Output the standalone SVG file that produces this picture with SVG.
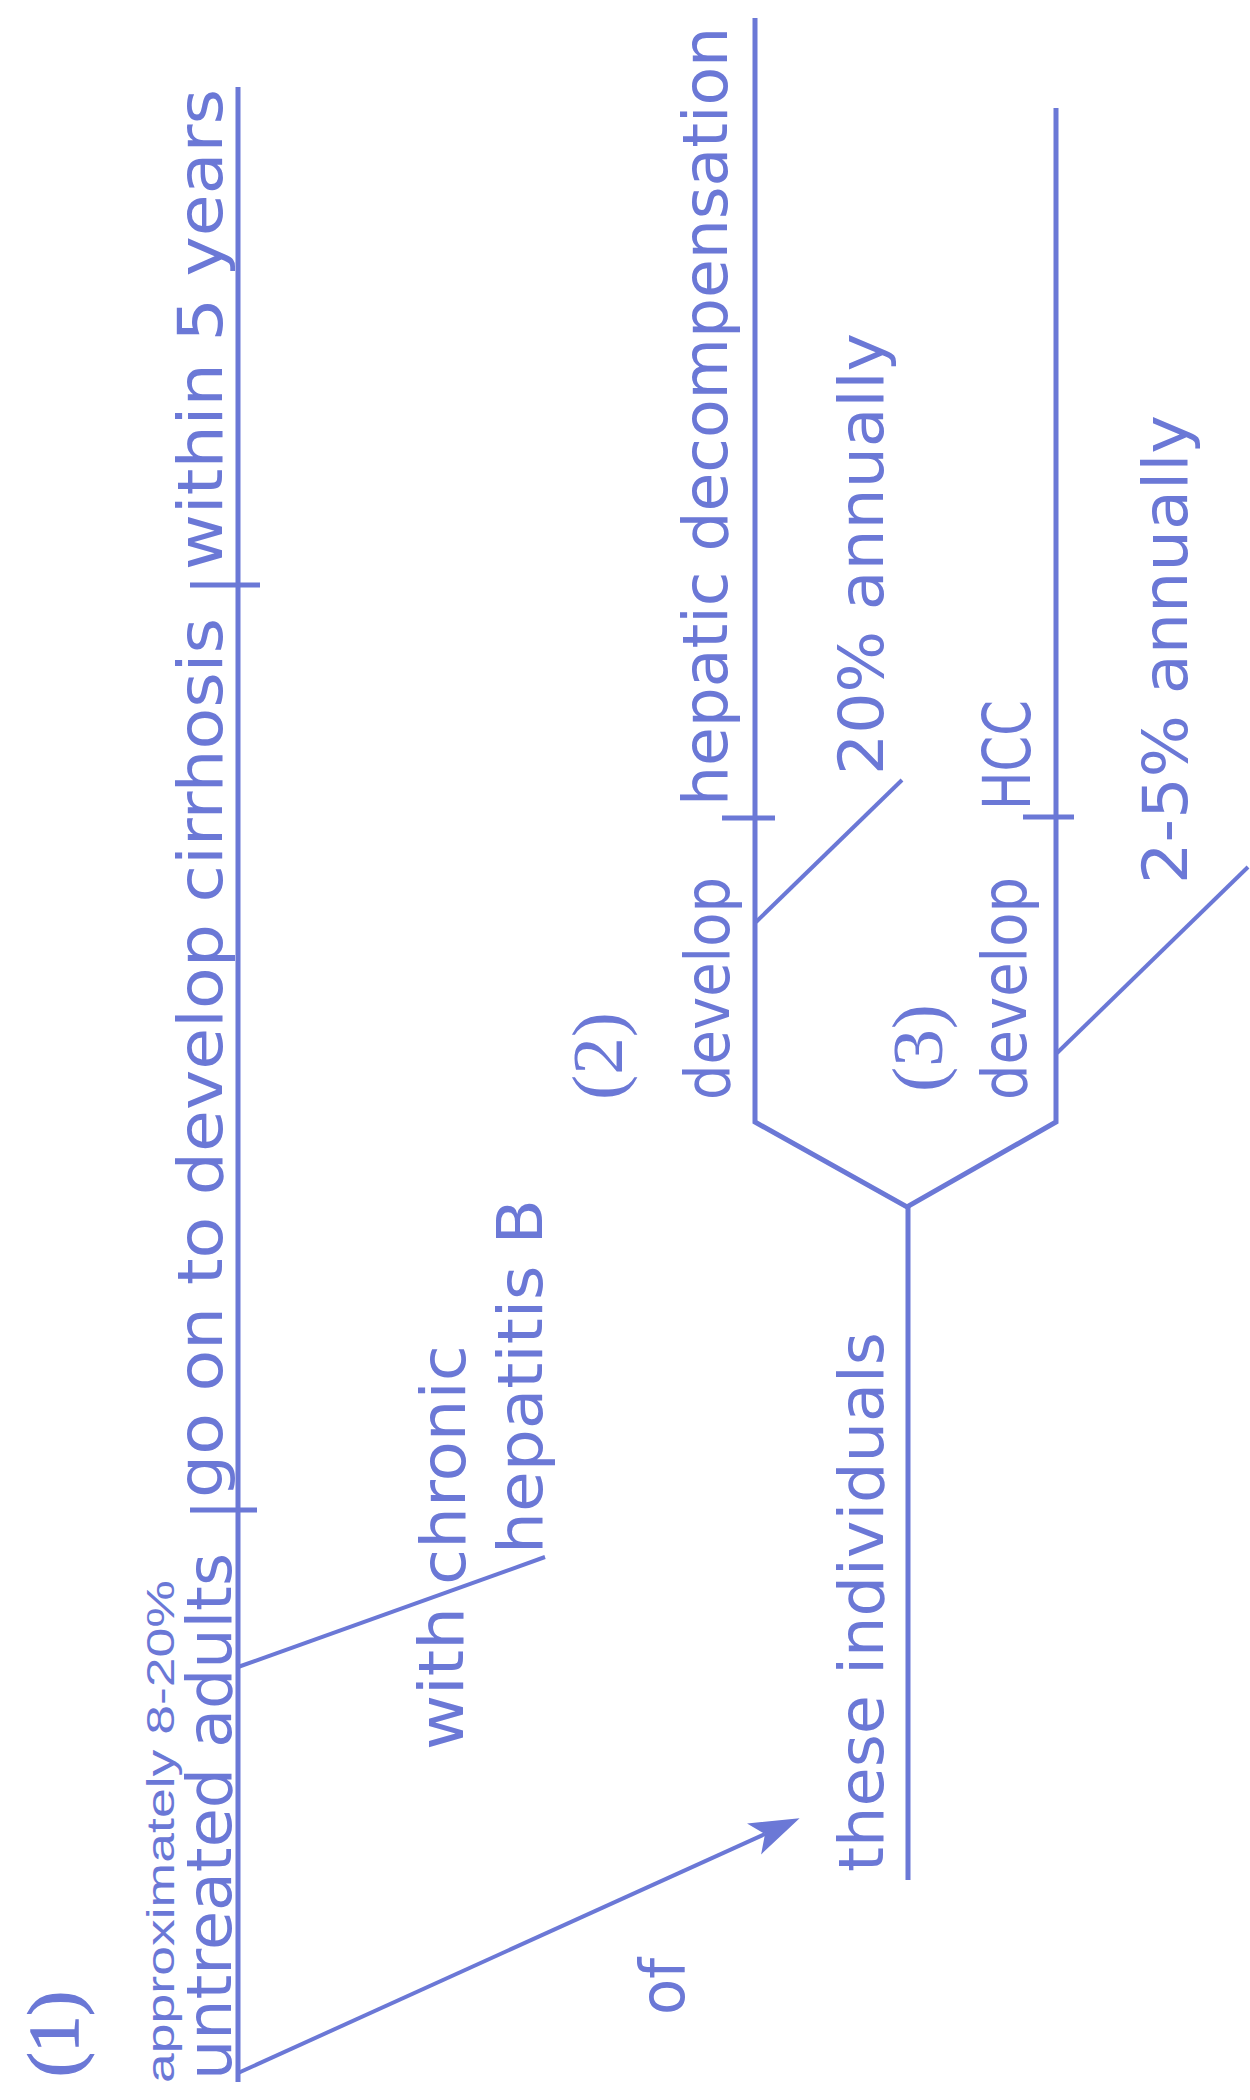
<svg xmlns="http://www.w3.org/2000/svg" width="1250" height="2100" viewBox="0 0 1250 2100">
<defs>
<style>
.ln{stroke:#6b78d6;stroke-width:5;fill:none;stroke-linejoin:miter}
.dg{stroke:#6b78d6;stroke-width:4;fill:none}
.t{font-family:"DejaVu Sans",Verdana,sans-serif;font-size:62px;fill:#6b78d6}
.s{font-family:"Liberation Sans",Arial,sans-serif;font-size:38px;fill:#6b78d6}
.n{font-family:"Liberation Serif","Times New Roman",serif;font-size:72px;fill:#6b78d6}
</style>
<marker id="ah" markerUnits="userSpaceOnUse" viewBox="-14 -18 54 36" markerWidth="54" markerHeight="36" refX="0" refY="0" orient="auto"><path d="M38,0 L-12,-17 L0,0 L-12,17 Z" fill="#6b78d6"/></marker>
</defs>
<rect width="1250" height="2100" fill="#ffffff"/>
<g id="connectors">
<path class="ln" d="M238,87 V2082"/>
<path class="ln" d="M190,1510 H257"/>
<path class="ln" d="M190,585 H260"/>
<path class="dg" d="M238,1667 L545,1557"/>
<path class="dg" d="M238,2073 L765,1834" marker-end="url(#ah)"/>
<path class="ln" d="M908,1880 V1207"/>
<path class="ln" d="M755,18 V1122 L907,1207 L1056,1122 V108"/>
<path class="ln" d="M722,818 H775"/>
<path class="ln" d="M1023,817 H1074"/>
<path class="dg" d="M756,922 L902,780"/>
<path class="dg" d="M1057,1053 L1248,867"/>
</g>
<g id="label-1"><text class="n" style="stroke:#6b78d6;stroke-width:1.5" transform="translate(78,2077) rotate(-90)" textLength="86" lengthAdjust="spacingAndGlyphs">(1)</text></g>
<g id="subject">
<text class="s" transform="translate(174,2083) rotate(-90)" textLength="503" lengthAdjust="spacingAndGlyphs">approximately 8-20%</text>
<text class="t" transform="translate(231,2080) rotate(-90)" textLength="527" lengthAdjust="spacingAndGlyphs">untreated adults</text>
</g>
<g id="predicate"><text class="t" transform="translate(222,1498) rotate(-90)" textLength="880" lengthAdjust="spacingAndGlyphs">go on to develop cirrhosis</text></g>
<g id="time"><text class="t" transform="translate(222,570) rotate(-90)" textLength="481" lengthAdjust="spacingAndGlyphs">within 5 years</text></g>
<g id="with-phrase">
<text class="t" transform="translate(463,1750) rotate(-90)" textLength="143" lengthAdjust="spacingAndGlyphs">with</text>
<text class="t" transform="translate(465,1585) rotate(-90)" textLength="240" lengthAdjust="spacingAndGlyphs">chronic</text>
<text class="t" transform="translate(542,1554) rotate(-90)" textLength="355" lengthAdjust="spacingAndGlyphs">hepatitis B</text>
</g>
<g id="of"><text class="t" transform="translate(684,2015) rotate(-90)" textLength="57" lengthAdjust="spacingAndGlyphs">of</text></g>
<g id="these-individuals"><text class="t" transform="translate(883,1872) rotate(-90)" textLength="540" lengthAdjust="spacingAndGlyphs">these individuals</text></g>
<g id="label-2"><text class="n" transform="translate(622,1100) rotate(-90)" textLength="88" lengthAdjust="spacingAndGlyphs">(2)</text></g>
<g id="branch-2">
<text class="t" transform="translate(729,1100) rotate(-90)" textLength="223" lengthAdjust="spacingAndGlyphs">develop</text>
<text class="t" transform="translate(727,806) rotate(-90)" textLength="779" lengthAdjust="spacingAndGlyphs">hepatic decompensation</text>
<text class="t" transform="translate(883,775) rotate(-90)" textLength="442" lengthAdjust="spacingAndGlyphs">20% annually</text>
</g>
<g id="label-3"><text class="n" transform="translate(942,1092) rotate(-90)" textLength="88" lengthAdjust="spacingAndGlyphs">(3)</text></g>
<g id="branch-3">
<text class="t" transform="translate(1026,1100) rotate(-90)" textLength="223" lengthAdjust="spacingAndGlyphs">develop</text>
<text class="t" style="font-size:66px" transform="translate(1030,810) rotate(-90)" textLength="110" lengthAdjust="spacingAndGlyphs">HCC</text>
<text class="t" transform="translate(1187,884) rotate(-90)" textLength="469" lengthAdjust="spacingAndGlyphs">2-5% annually</text>
</g>
</svg>
